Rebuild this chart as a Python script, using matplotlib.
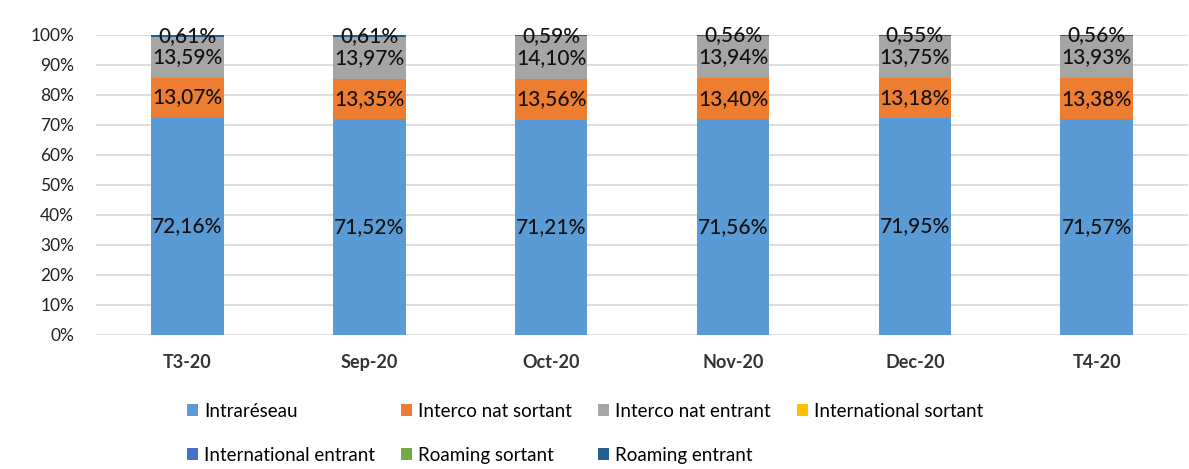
import numpy as np
import matplotlib.pyplot as plt

plt.rcParams['font.family'] = ['Lato', 'DejaVu Sans']

mois = ['T3-20', 'Sep-20', 'Oct-20', 'Nov-20', 'Dec-20', 'T4-20']
intrareseau = [72.16, 71.52, 71.21, 71.56, 71.95, 71.57]
interco_sortant = [13.07, 13.35, 13.56, 13.40, 13.18, 13.38]
interco_entrant = [13.59, 13.97, 14.10, 13.94, 13.75, 13.93]
inter_sortant = [0.0, 0.0, 0.0, 0.0, 0.0, 0.0]
inter_entrant = [0.0, 0.0, 0.0, 0.0, 0.0, 0.0]
roaming_sortant = [0.0, 0.0, 0.0, 0.0, 0.0, 0.0]
roaming_entrant = [0.61, 0.61, 0.59, 0.56, 0.55, 0.56]

series = [
    ('Intraréseau', intrareseau, '#5B9BD5'),
    ('Interco nat sortant', interco_sortant, '#ED7D31'),
    ('Interco nat entrant', interco_entrant, '#A5A5A5'),
    ('International sortant', inter_sortant, '#FFC000'),
    ('International entrant', inter_entrant, '#4472C4'),
    ('Roaming sortant', roaming_sortant, '#70AD47'),
    ('Roaming entrant', roaming_entrant, '#255E91'),
]

# 100% empile comme dans Excel
total = np.sum([np.array(s[1]) for s in series], axis=0)

fig = plt.figure(figsize=(11.89, 4.69), dpi=100)
ax = fig.add_axes([0.081, 0.286, 0.918, 0.64])

x = np.arange(len(mois))
bas = np.zeros(len(mois))
handles = []
for nom, vals, col in series:
    v = np.array(vals) / total * 100
    b = ax.bar(x, v, 0.4, bottom=bas, color=col, label=nom, zorder=3)
    handles.append(b)
    for xi, vi, bi, raw in zip(x, v, bas, vals):
        if raw > 0:
            ax.text(xi, bi + vi / 2, f'{raw:.2f}%'.replace('.', ','),
                    ha='center', va='center', fontsize=15, color='#111111',
                    fontweight='medium', zorder=4)
    bas += v

ax.set_xlim(-0.5, 5.5)
ax.set_ylim(0, 100)
ax.set_yticks(np.arange(0, 101, 10))
ax.set_yticklabels([f'{t}%' for t in range(0, 101, 10)], fontsize=12.5,
                   color='#222222')
ax.set_xticks(x)
ax.set_xticklabels(mois, fontsize=13, fontweight='bold', color='#333333')
ax.tick_params(length=0, axis='both')
ax.tick_params(axis='x', pad=14)
ax.tick_params(axis='y', pad=16)
ax.grid(axis='y', color='#D9D9D9', linewidth=1.2, zorder=0)
for s in ax.spines.values():
    s.set_visible(False)

# legende remplie par lignes comme Excel
ordre = [0, 4, 1, 5, 2, 6, 3]
fig.legend(handles=[handles[i] for i in ordre], loc='lower left',
           bbox_to_anchor=(0.143, -0.025),
           ncol=4, frameon=False, fontsize=13.5, handlelength=0.6,
           handleheight=0.6, handletextpad=0.3, columnspacing=1.4,
           labelspacing=1.45)

fig.savefig('out.png', dpi=100, facecolor='white')
